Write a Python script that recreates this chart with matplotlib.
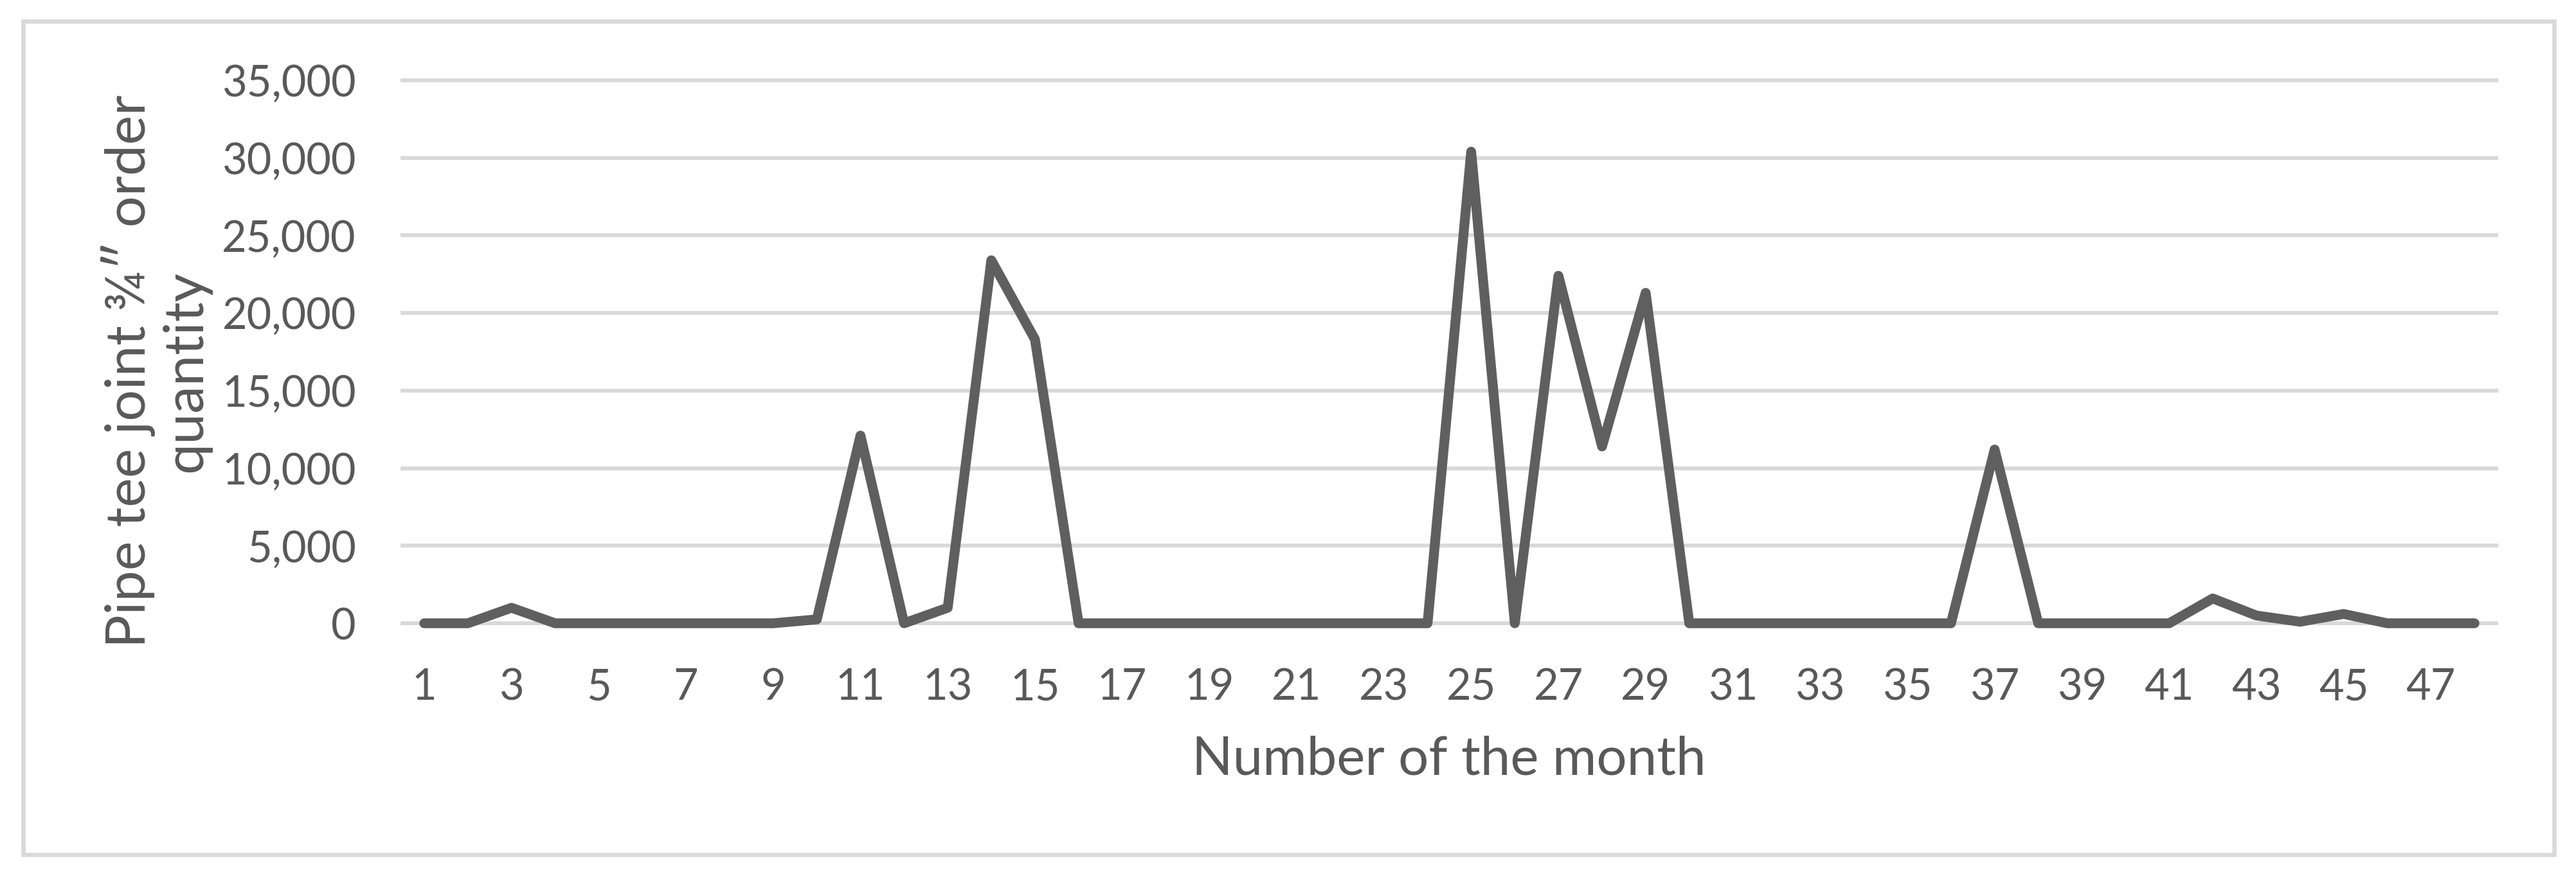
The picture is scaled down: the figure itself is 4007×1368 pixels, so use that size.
import matplotlib.pyplot as plt
from matplotlib.patches import Rectangle
from matplotlib.ticker import FuncFormatter

months = list(range(1, 49))
orders = [
    0, 0, 1000, 0, 0, 0, 0, 0, 0, 250,
    12100, 0, 1000, 23400, 18300, 0, 0, 0, 0, 0,
    0, 0, 0, 0, 30400, 0, 22400, 11400, 21300, 0,
    0, 0, 0, 0, 0, 0, 11200, 0, 0, 0,
    0, 1600, 500, 100, 600, 0, 0, 0,
]
xtick_labels = [str(m) for m in range(1, 48, 2)]
y_ticks = list(range(0, 35001, 5000))

text_col = "#595959"
grid_col = "#d9d9d9"
line_col = "#5f5f5f"

plt.rcParams["font.family"] = ["Lato", "DejaVu Sans"]

W, H = 4007, 1368
fig = plt.figure(figsize=(W / 100, H / 100), dpi=100)
ax = fig.add_axes([626 / W, 1 - 970 / H, (3883 - 626) / W, (970 - 125) / H])

ax.plot(months, orders, color=line_col, lw=11, solid_capstyle="round",
        solid_joinstyle="round", clip_on=False, zorder=3)

ax.set_xlim(0.5, 48.5)
ax.set_ylim(0, 35000)
ax.set_yticks(y_ticks)
ax.yaxis.set_major_formatter(FuncFormatter(lambda v, p: f"{int(v):,}"))
ax.set_xticks(range(1, 48, 2))
ax.set_xticklabels(xtick_labels)

ax.grid(axis="y", color=grid_col, lw=4.3)
for gl in ax.get_ygridlines():
    gl.set_clip_on(False)
ax.set_axisbelow(True)
for s in ax.spines.values():
    s.set_visible(False)

ax.tick_params(axis="both", length=0, labelsize=48, labelcolor=text_col)
ax.tick_params(axis="x", pad=50)
ax.tick_params(axis="y", pad=52)

fig.text(2254 / W, 1 - 1182 / H, "Number of the month", ha="center", va="center",
         fontsize=60, color=text_col)
fig.text(242 / W, 1 - 578 / H, "Pipe tee joint \u00be\u2033 order\nquantity",
         rotation=90, ha="center", va="center", multialignment="center",
         fontsize=62, color=text_col, linespacing=1.15)

# outer chart border
fig.patches.append(Rectangle((36 / W, 1 - 1330 / H), (3973 - 36) / W, (1330 - 33) / H,
                             transform=fig.transFigure, fill=False,
                             edgecolor=grid_col, lw=4.7))

fig.savefig("out.png", dpi=100)
